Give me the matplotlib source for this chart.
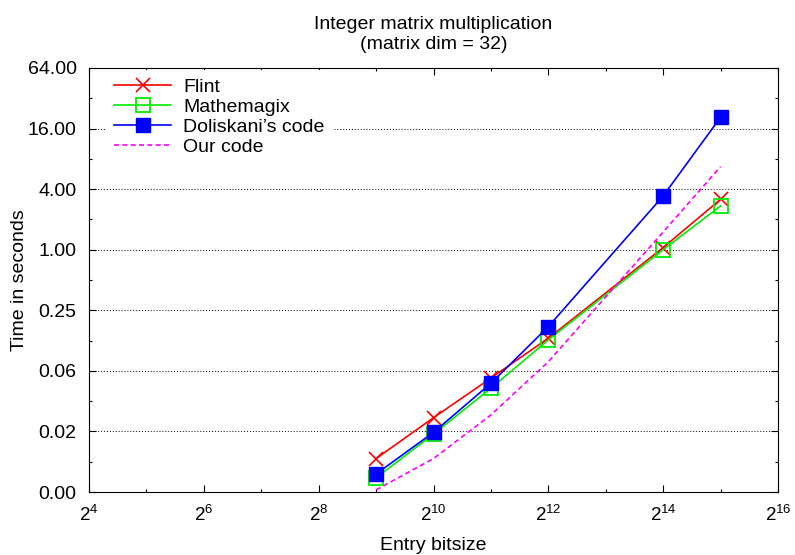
#! /usr/bin/env python3

import matplotlib
matplotlib.use("Agg")
import matplotlib.pyplot as plt
from matplotlib.ticker import FixedLocator, NullFormatter

plt.rcParams['font.family'] = ['Liberation Sans', 'DejaVu Sans']
plt.rcParams['mathtext.default'] = 'regular'

# ----- data -----
bitsize = [2**9, 2**10, 2**11, 2**12, 2**14, 2**15]
flint = [0.0084, 0.0214, 0.053, 0.132, 1.05, 3.17]
mathemagix = [0.0054, 0.0147, 0.042, 0.127, 1.0, 2.72]
doliskani = [0.0059, 0.0153, 0.047, 0.172, 3.42, 20.7]
ourcode = [0.0041, 0.0084, 0.0228, 0.077, 1.50, 6.69]

x_exps = [4, 6, 8, 10, 12, 14, 16]
y_ticks = [2**-8, 2**-6, 2**-4, 2**-2, 1, 4, 16, 64]

# ----- plot -----
fig = plt.figure(figsize=(7.95, 5.55), dpi=100)
ax = fig.add_axes([0.112, 0.1135, 0.8666, 0.764])

ax.plot(bitsize, flint, color='red', lw=1.2, marker='x', ms=10, mew=1.2,
        label='Flint')
ax.plot(bitsize, mathemagix, color='#00ee00', lw=1.2, marker='s', ms=10,
        mfc='none', mew=1.3, label='Mathemagix')
ax.plot(bitsize, doliskani, color='blue', lw=1.2, marker='s', ms=10.5,
        label="Doliskani\u2019s code")
ax.plot(bitsize, ourcode, color='magenta', lw=1.2, ls=(0, (3, 2)),
        label='Our code')

ax.set_xscale('log', base=2)
ax.set_yscale('log', base=2)
ax.set_xlim(2**4, 2**16)
ax.set_ylim(2**-8, 2**6)

ax.xaxis.set_major_locator(FixedLocator([2**e for e in x_exps]))
ax.xaxis.set_minor_locator(FixedLocator([2**e for e in range(5, 16, 2)]))
ax.set_xticklabels([f'$2^{{{e}}}$' for e in x_exps])
ax.xaxis.set_minor_formatter(NullFormatter())

ax.yaxis.set_major_locator(FixedLocator(y_ticks))
ax.yaxis.set_minor_locator(FixedLocator([2**e for e in range(-7, 6, 2)]))
ax.set_yticklabels([f'{v:.2f}' for v in y_ticks])
ax.yaxis.set_minor_formatter(NullFormatter())

ax.tick_params(which='both', direction='in', top=True, right=True, pad=9)
ax.tick_params(axis='y', labelsize=14)
ax.tick_params(axis='x', labelsize=13.5)
ax.tick_params(which='major', length=5, width=0.8)
ax.tick_params(which='minor', length=2.5, width=0.8)

ax.grid(True, axis='y', which='major', color='black', ls=(0, (1, 2)), lw=0.7)

ax.set_title('Integer matrix multiplication\n(matrix dim = 32)', fontsize=14,
             pad=14, linespacing=1.2)
ax.set_xlabel('Entry bitsize', fontsize=14, labelpad=9)
ax.set_ylabel('Time in seconds', fontsize=14, labelpad=0)

leg = ax.legend(loc='upper left', bbox_to_anchor=(0.017, 1.008), fontsize=14,
                frameon=True, facecolor='white', edgecolor='none',
                framealpha=1.0, handlelength=2.9, handletextpad=0.65,
                labelspacing=0.12, borderaxespad=0.3, fancybox=False)

fig.savefig('out.png', dpi=100)
